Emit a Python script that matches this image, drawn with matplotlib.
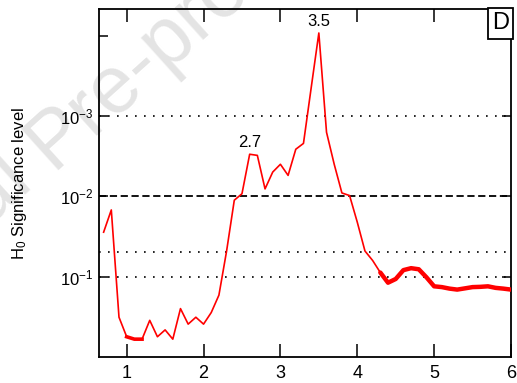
import matplotlib
matplotlib.use("Agg")
import matplotlib.pyplot as plt
import numpy as np

plt.rcParams['font.family'] = ['Liberation Sans', 'DejaVu Sans']
plt.rcParams['mathtext.default'] = 'regular'

# period (x) and H0 significance level (y)
period = [0.7, 0.8, 0.9, 1.0, 1.1, 1.2, 1.3, 1.4, 1.5, 1.6,
          1.7, 1.8, 1.9, 2.0, 2.1, 2.2, 2.3, 2.4, 2.5, 2.6,
          2.7, 2.8, 2.9, 3.0, 3.1, 3.2, 3.3, 3.4, 3.5, 3.6,
          3.7, 3.8, 3.9, 4.0, 4.1, 4.2, 4.3, 4.4, 4.5, 4.6,
          4.7, 4.8, 4.9, 5.0, 5.1, 5.2, 5.3, 5.4, 5.5, 5.6,
          5.7, 5.8, 5.9, 6.0]
signif = [0.028, 0.0148, 0.32, 0.56, 0.60, 0.60, 0.35, 0.56, 0.46, 0.60,
          0.25, 0.39, 0.32, 0.39, 0.28, 0.17, 0.048, 0.0112, 0.0093, 0.0030,
          0.0031, 0.0081, 0.0050, 0.0040, 0.0055, 0.0026, 0.0022, 0.00045, 0.000093, 0.0016,
          0.0040, 0.0091, 0.0098, 0.021, 0.048, 0.063, 0.089, 0.119, 0.107, 0.083,
          0.0785, 0.081, 0.102, 0.132, 0.135, 0.141, 0.145, 0.140, 0.135, 0.134,
          0.132, 0.138, 0.141, 0.145]

dotted_levels = [1e-3, 0.05, 0.1]
dashed_level = 1e-2
peak_labels = ["2.7", "3.5"]
peak_x = [2.6, 3.5]

x = np.array(period)
y = np.array(signif)

fig = plt.figure(figsize=(5.17, 3.83), dpi=100)
ax = fig.add_axes([0.1915, 0.0679, 0.7969, 0.9086])
ax.set_facecolor('none')

# watermark, split at the space so the anchor sits where "Pre" starts
wm = dict(fontsize=58, color='#e4e4e4', rotation=42, rotation_mode='anchor',
          va='baseline', zorder=-1)
fig.text(0.10, 0.555, "Journal ", ha='right', **wm)
fig.text(0.10, 0.555, "Pre-proof", ha='left', **wm)

for lev in dotted_levels:
    ax.axhline(lev, color='black', lw=1.2, ls=(0, (1, 4.4)), zorder=1)
ax.axhline(dashed_level, color='black', lw=1.3, ls=(0, (4, 2)), zorder=1)

ax.plot(x, y, color='red', lw=1.2, zorder=3)
thick = x >= 4.3
ax.plot(x[thick], y[thick], color='red', lw=3.2, solid_capstyle='round', zorder=3)
thick2 = (x >= 1.0) & (x <= 1.2)
ax.plot(x[thick2], y[thick2], color='red', lw=2.6, zorder=3)

for lab, px in zip(peak_labels, peak_x):
    py = y[np.argmin(np.abs(x - px))]
    ax.annotate(lab, (px, py), xytext=(0, 3), textcoords='offset points',
                ha='center', va='bottom', fontsize=12)

ax.set_yscale('log')
ax.set_xlim(0.64, 6.0)
ax.set_ylim(1, 10 ** -4.33)

ax.set_xticks([1, 2, 3, 4, 5, 6])
ax.set_xticklabels(['1', '2', '3', '4', '5', '6'])
ax.set_yticks([1e-4, 1e-3, 1e-2, 1e-1])
ax.set_yticklabels(['', '$10^{-3}$', '$10^{-2}$', '$10^{-1}$'])
ax.minorticks_off()
ax.tick_params(axis='x', direction='in', length=9.5, width=1.1, top=True,
               labelsize=13, pad=6)
ax.tick_params(axis='y', direction='in', length=6.5, width=1.1, right=True,
               labelsize=12, pad=4)
for s in ax.spines.values():
    s.set_linewidth(1.3)

ax.set_ylabel('H$_0$ Significance level', fontsize=12, labelpad=22)

ax.text(0.995, 0.99, 'D', transform=ax.transAxes, ha='right', va='top',
        fontsize=17, bbox=dict(facecolor='white', edgecolor='black', lw=1.3,
                               boxstyle='square,pad=0.18'))

fig.savefig('out.png', dpi=100)
